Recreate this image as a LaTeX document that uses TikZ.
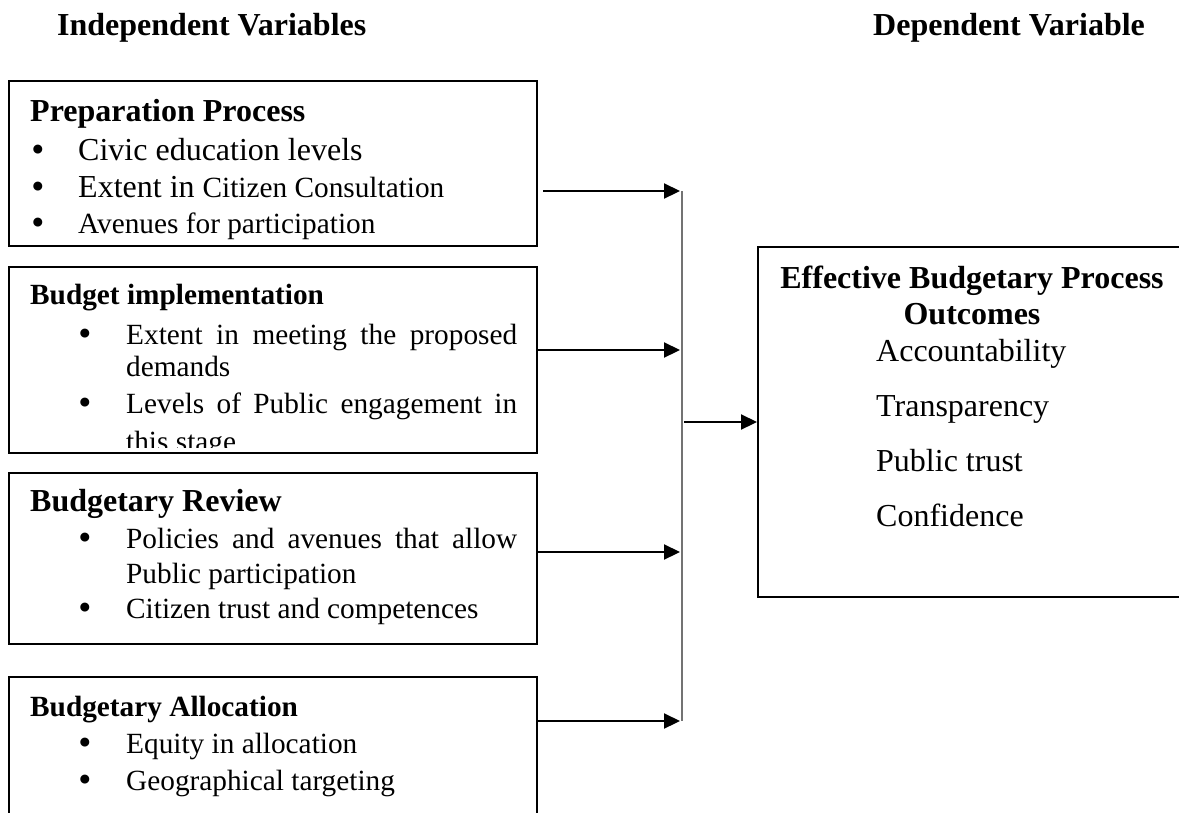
\documentclass[tikz,border=0pt]{standalone}
\usepackage{fontspec}
\setmainfont{Liberation Serif}
\usetikzlibrary{arrows.meta}
\newcommand\fsA{\fontsize{32}{38}\selectfont}
\newcommand\fsB{\fontsize{29.3}{35}\selectfont}
\newcommand\fsC{\fontsize{33}{36}\selectfont}
\begin{document}
\begin{tikzpicture}[x=1pt,y=-1pt,
  box/.style={draw=black, line width=2pt, rectangle, inner sep=0pt},
  txt/.style={anchor=base west, inner sep=0pt, font=\fsB},
  big/.style={anchor=base west, inner sep=0pt, font=\fsA},
  hdr/.style={anchor=base west, inner sep=0pt, font=\fsA\bfseries},
  hdrs/.style={anchor=base west, inner sep=0pt, font=\fsB\bfseries},
  bul/.style={anchor=base, inner sep=0pt, font=\fsC\bfseries},
  arr/.style={line width=2.2pt, -{Triangle[length=16pt,width=15pt]}},
  bus/.style={line width=1.3pt, draw=black!55}]
\useasboundingbox (0,0) rectangle (1179,812);
\fill[white] (0,0) rectangle (1179,812);

% titles
\node[hdr] (tind) at (57,35) {Independent Variables};
\node[hdr] (tdep) at (873,35) {Dependent Variable};

% boxes
\node[box, minimum width=528pt, minimum height=165pt] (b1) at (273,163.5) {};
\node[box, minimum width=528pt, minimum height=186pt] (b2) at (273,360) {};
\node[box, minimum width=528pt, minimum height=171pt] (b3) at (273,558.5) {};
\node[box, minimum width=528pt, minimum height=160pt] (b4) at (273,757) {};
\node[box, minimum width=442pt, minimum height=350pt] (out) at (979,422) {};

% box 1 text
\node[hdr] (h1) at (30,121) {Preparation Process};
\node[bul] (u11) at (38,160) {•};
\node[big] (t11) at (78,160) {Civic education levels};
\node[bul] (u12) at (38,197) {•};
\node[big] (t12) at (78,197) {Extent in {\fsB Citizen Consultation}};
\node[bul] (u13) at (38,233) {•};
\begin{scope}
\clip (0,0) rectangle (600,241);
\node[txt] (t13) at (78,233) {Avenues for participation};
\end{scope}

% box 2 text
\node[hdrs] (h2) at (30,304) {Budget implementation};
\node[bul] (u21) at (85,344) {•};
\node[txt] (t21) at (126,344) {\makebox[391pt][s]{Extent in meeting the proposed}};
\node[txt] (t22) at (126,376) {demands};
\node[bul] (u22) at (85,413) {•};
\node[txt] (t23) at (126,413) {\makebox[391pt][s]{Levels of Public engagement in}};
\begin{scope}
\clip (0,0) rectangle (600,447.5);
\node[txt] (t24) at (126,451) {this stage};
\end{scope}

% box 3 text
\node[hdr] (h3) at (30,511) {Budgetary Review};
\node[bul] (u31) at (85,548) {•};
\node[txt] (t31) at (126,548) {\makebox[391pt][s]{Policies and avenues that allow}};
\node[txt] (t32) at (126,583) {Public participation};
\node[bul] (u32) at (85,618) {•};
\node[txt] (t33) at (126,618) {Citizen trust and competences};

% box 4 text
\node[hdrs] (h4) at (30,716) {Budgetary Allocation};
\node[bul] (u41) at (85,753) {•};
\node[txt] (t41) at (126,753) {Equity in allocation};
\node[bul] (u42) at (85,790) {•};
\node[txt] (t42) at (126,790) {Geographical targeting};

% outcome box text
\node[anchor=base, inner sep=0pt, font=\fsA\bfseries] (oh1) at (972,288) {Effective Budgetary Process};
\node[anchor=base, inner sep=0pt, font=\fsA\bfseries] (oh2) at (972,324) {Outcomes};
\node[big] (o1) at (876,361) {Accountability};
\node[big] (o2) at (876,416) {Transparency};
\node[big] (o3) at (876,471) {Public trust};
\node[big] (o4) at (876,526) {Confidence};

% connectors
\coordinate (bt) at (682,191);
\coordinate (bb) at (682,721);
\coordinate (j1) at (680,191);
\coordinate (j2) at (680,350);
\coordinate (j3) at (680,552);
\coordinate (j4) at (680,721);
\coordinate (jm) at (684,422);
\draw[bus] (bt) -- (bb);
\draw[arr, shorten <=5pt] (b1.east |- j1) -- (j1);
\draw[arr] (b2.east |- j2) -- (j2);
\draw[arr] (b3.east |- j3) -- (j3);
\draw[arr] (b4.east |- j4) -- (j4);
\draw[arr] (jm) -- (out.west);
\end{tikzpicture}
\end{document}
